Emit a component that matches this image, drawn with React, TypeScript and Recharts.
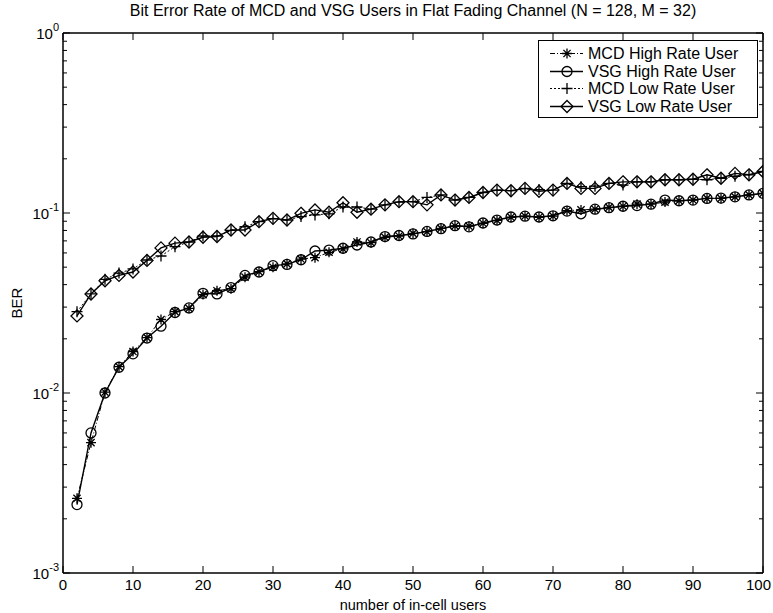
import React from 'react';
import { LineChart, Line, XAxis, YAxis, Legend } from 'recharts';

// Number of in-cell users (x axis)
const users = [
  2, 4, 6, 8, 10, 12, 14, 16, 18, 20,
  22, 24, 26, 28, 30, 32, 34, 36, 38, 40,
  42, 44, 46, 48, 50, 52, 54, 56, 58, 60,
  62, 64, 66, 68, 70, 72, 74, 76, 78, 80,
  82, 84, 86, 88, 90, 92, 94, 96, 98, 100,
];

// BER of the high rate user
const mcdHigh = [
  0.0026, 0.0053, 0.0101, 0.0140, 0.0170, 0.0203, 0.0256, 0.0283, 0.0295, 0.0352,
  0.0370, 0.0380, 0.0440, 0.0472, 0.0500, 0.0522, 0.0555, 0.0565, 0.0605, 0.0632,
  0.0690, 0.0684, 0.0733, 0.0745, 0.0770, 0.0787, 0.0822, 0.0847, 0.0845, 0.0877,
  0.0910, 0.0947, 0.0962, 0.0947, 0.0962, 0.1030, 0.1040, 0.1050, 0.1075, 0.1090,
  0.1120, 0.1120, 0.1150, 0.1170, 0.1180, 0.1205, 0.1205, 0.1230, 0.1260, 0.1285,
];
const vsgHigh = [
  0.0024, 0.0060, 0.0100, 0.0139, 0.0165, 0.0202, 0.0235, 0.0280, 0.0297, 0.0358,
  0.0355, 0.0385, 0.0450, 0.0470, 0.0510, 0.0518, 0.0550, 0.0615, 0.0622, 0.0637,
  0.0664, 0.0690, 0.0740, 0.0750, 0.0765, 0.0790, 0.0818, 0.0850, 0.0838, 0.0880,
  0.0914, 0.0950, 0.0960, 0.0950, 0.0965, 0.1025, 0.0990, 0.1050, 0.1070, 0.1090,
  0.1100, 0.1120, 0.1180, 0.1170, 0.1180, 0.1205, 0.1210, 0.1230, 0.1260, 0.1286,
];

// BER of the low rate user
const mcdLow = [
  0.0283, 0.0355, 0.0428, 0.0464, 0.0489, 0.0548, 0.0577, 0.0650, 0.0690, 0.0745,
  0.0745, 0.0800, 0.0840, 0.0895, 0.0930, 0.0914, 0.0955, 0.0976, 0.0990, 0.1080,
  0.1080, 0.1050, 0.1110, 0.1150, 0.1156, 0.1220, 0.1260, 0.1180, 0.1220, 0.1300,
  0.1340, 0.1330, 0.1370, 0.1350, 0.1340, 0.1460, 0.1400, 0.1410, 0.1460, 0.1430,
  0.1490, 0.1490, 0.1530, 0.1530, 0.1540, 0.1530, 0.1560, 0.1600, 0.1630, 0.1700,
];
const vsgLow = [
  0.0268, 0.0355, 0.0420, 0.0450, 0.0470, 0.0545, 0.0640, 0.0680, 0.0690, 0.0733,
  0.0740, 0.0805, 0.0805, 0.0895, 0.0934, 0.0914, 0.0996, 0.1040, 0.1010, 0.1140,
  0.1010, 0.1050, 0.1110, 0.1156, 0.1156, 0.1110, 0.1260, 0.1180, 0.1220, 0.1300,
  0.1340, 0.1330, 0.1370, 0.1320, 0.1340, 0.1460, 0.1370, 0.1370, 0.1460, 0.1490,
  0.1490, 0.1490, 0.1530, 0.1530, 0.1540, 0.1630, 0.1560, 0.1660, 0.1630, 0.1700,
];

const xTicks = [0, 10, 20, 30, 40, 50, 60, 70, 80, 90, 100];
const yDecades = [0.001, 0.01, 0.1, 1];
const yMinorSteps = [2, 3, 4, 5, 6, 7, 8, 9];

const seriesNames = {
  mcdHigh: 'MCD High Rate User',
  vsgHigh: 'VSG High Rate User',
  mcdLow: 'MCD Low Rate User',
  vsgLow: 'VSG Low Rate User',
};

const title = 'Bit Error Rate of MCD and VSG Users in Flat Fading Channel (N = 128, M = 32)';

const FONT = '"Liberation Sans", Arial, Helvetica, sans-serif';
const TICK_FONT = 15;

const data = users.map((u, i) => ({
  users: u,
  mcdHigh: mcdHigh[i],
  vsgHigh: vsgHigh[i],
  mcdLow: mcdLow[i],
  vsgLow: vsgLow[i],
}));

const yTicks: number[] = [];
yDecades.forEach((d, i) => {
  yTicks.push(d);
  if (i < yDecades.length - 1) yMinorSteps.forEach((m) => yTicks.push(+(m * d).toPrecision(3)));
});

type MarkerKind = 'star' | 'circle' | 'plus' | 'diamond';

const Marker = ({ kind, cx, cy }: { kind: MarkerKind; cx: number; cy: number }) => {
  const s = '#000';
  const w = 1.3;
  if (kind === 'circle') return <circle cx={cx} cy={cy} r={5} fill="none" stroke={s} strokeWidth={w} />;
  if (kind === 'diamond') {
    const r = 6;
    return (
      <path
        d={`M${cx},${cy - r} L${cx + r},${cy} L${cx},${cy + r} L${cx - r},${cy} Z`}
        fill="none"
        stroke={s}
        strokeWidth={w}
      />
    );
  }
  if (kind === 'plus') {
    const r = 5.5;
    return <path d={`M${cx - r},${cy} H${cx + r} M${cx},${cy - r} V${cy + r}`} stroke={s} strokeWidth={w} />;
  }
  const r = 5;
  const d = r * 0.72;
  return (
    <path
      d={`M${cx - r},${cy} H${cx + r} M${cx},${cy - r} V${cy + r} M${cx - d},${cy - d} L${cx + d},${cy + d} M${cx - d},${cy + d} L${cx + d},${cy - d}`}
      stroke={s}
      strokeWidth={w}
    />
  );
};

const dotFor = (kind: MarkerKind) => (p: any) =>
  p.cx == null || p.cy == null ? <g key={p.index} /> : <Marker key={p.index} kind={kind} cx={p.cx} cy={p.cy} />;

const isDecade = (v: number) => yDecades.some((d) => Math.abs(v - d) < d * 1e-6);

const LeftTick = (p: any) => {
  const v = p.payload.value;
  const major = isDecade(v);
  const e = Math.round(Math.log10(v));
  return (
    <g>
      <line x1={p.x} x2={p.x + (major ? 7 : 4)} y1={p.y} y2={p.y} stroke="#000" strokeWidth={1} />
      {major && (
        <text x={p.x - 4} y={p.y + 6} textAnchor="end" fontSize={TICK_FONT} fontFamily={FONT} fill="#000">
          10
          <tspan dy={-8} fontSize={11}>{e}</tspan>
        </text>
      )}
    </g>
  );
};

const RightTick = (p: any) => {
  const major = isDecade(p.payload.value);
  return <line x1={p.x} x2={p.x - (major ? 7 : 4)} y1={p.y} y2={p.y} stroke="#000" strokeWidth={1} />;
};

const BottomTick = (p: any) => {
  const last = p.payload.value === xTicks[xTicks.length - 1];
  return (
    <g>
      <line x1={p.x} x2={p.x} y1={p.y} y2={p.y - 7} stroke="#000" strokeWidth={1} />
      <text
        x={last ? p.x + 8 : p.x}
        y={p.y + 17}
        textAnchor={last ? 'end' : 'middle'}
        fontSize={TICK_FONT}
        fontFamily={FONT}
        fill="#000"
      >
        {p.payload.value}
      </text>
    </g>
  );
};

const TopTick = (p: any) => <line x1={p.x} x2={p.x} y1={p.y} y2={p.y + 7} stroke="#000" strokeWidth={1} />;

const legendRows: { key: keyof typeof seriesNames; kind: MarkerKind; dash?: string; width: number }[] = [
  { key: 'mcdHigh', kind: 'star', dash: '5 2 1 2', width: 1 },
  { key: 'vsgHigh', kind: 'circle', width: 1.4 },
  { key: 'mcdLow', kind: 'plus', dash: '2 2', width: 1 },
  { key: 'vsgLow', kind: 'diamond', width: 1.4 },
];

const LegendBox = () => (
  <div
    style={{
      border: '1px solid #000',
      background: '#fff',
      boxSizing: 'border-box',
      width: 220,
      height: 78,
      padding: '4px 0 0 0',
      fontFamily: FONT,
      fontSize: 16,
      color: '#000',
    }}
  >
    {legendRows.map((r) => (
      <div key={r.key} style={{ display: 'flex', alignItems: 'center', height: 17.5 }}>
        <svg width={41} height={17} style={{ marginLeft: 8, flex: 'none' }}>
          <line x1={3} x2={36} y1={8.5} y2={8.5} stroke="#000" strokeWidth={r.width} strokeDasharray={r.dash} />
          <Marker kind={r.kind} cx={20} cy={8.5} />
        </svg>
        <span style={{ whiteSpace: 'nowrap', lineHeight: '17px' }}>{seriesNames[r.key]}</span>
      </div>
    ))}
  </div>
);

export default function App() {
  return (
    <div style={{ position: 'absolute', left: 0, top: 0, width: 773, height: 613, background: '#fff' }}>
      <div
        style={{
          position: 'absolute',
          left: 33,
          width: 760,
          top: 2,
          textAlign: 'center',
          fontFamily: FONT,
          fontSize: 16,
          color: '#000',
          whiteSpace: 'nowrap',
        }}
      >
        {title}
      </div>
      <LineChart width={773} height={613} data={data} margin={{ top: 0, right: 0, bottom: 0, left: 0 }}>
        <XAxis
          xAxisId="bottom"
          dataKey="users"
          type="number"
          domain={[0, 100]}
          ticks={xTicks}
          interval={0}
          height={40}
          tickSize={0}
          tickMargin={0}
          tick={BottomTick}
          axisLine={{ stroke: '#000', strokeWidth: 1.5 }}
          tickLine={false}
          allowDataOverflow
          label={{
            content: () => (
              <text x={413} y={610} textAnchor="middle" fontSize={14.5} fontFamily={FONT} fill="#000">
                number of in-cell users
              </text>
            ),
          }}
        />
        <XAxis
          xAxisId="top"
          orientation="top"
          dataKey="users"
          type="number"
          domain={[0, 100]}
          ticks={xTicks}
          interval={0}
          height={33}
          tickSize={0}
          tickMargin={0}
          tick={TopTick}
          axisLine={{ stroke: '#000', strokeWidth: 1.5 }}
          tickLine={false}
          allowDataOverflow
        />
        <YAxis
          yAxisId="left"
          type="number"
          scale="log"
          domain={[0.001, 1]}
          ticks={yTicks}
          interval={0}
          width={63}
          tickSize={0}
          tickMargin={0}
          tick={LeftTick}
          axisLine={{ stroke: '#000', strokeWidth: 1.5 }}
          tickLine={false}
          allowDataOverflow
          label={{
            content: () => (
              <text
                x={22}
                y={303}
                transform="rotate(-90 22 303)"
                textAnchor="middle"
                fontSize={15}
                fontFamily={FONT}
                fill="#000"
              >
                BER
              </text>
            ),
          }}
        />
        <YAxis
          yAxisId="right"
          orientation="right"
          type="number"
          scale="log"
          domain={[0.001, 1]}
          ticks={yTicks}
          interval={0}
          width={10}
          tickSize={0}
          tickMargin={0}
          tick={RightTick}
          axisLine={{ stroke: '#000', strokeWidth: 1.5 }}
          tickLine={false}
          allowDataOverflow
        />
        <Legend
          layout="vertical"
          align="center"
          verticalAlign="middle"
          content={() => <LegendBox />}
          wrapperStyle={{ left: 538, top: 40, width: 220, height: 78 }}
        />
        <Line
          xAxisId="bottom"
          yAxisId="left"
          dataKey="mcdHigh"
          name={seriesNames.mcdHigh}
          stroke="#000"
          strokeWidth={1}
          strokeDasharray="5 2 1 2"
          dot={dotFor('star')}
          isAnimationActive={false}
        />
        <Line
          xAxisId="bottom"
          yAxisId="left"
          dataKey="vsgHigh"
          name={seriesNames.vsgHigh}
          stroke="#000"
          strokeWidth={1.4}
          dot={dotFor('circle')}
          isAnimationActive={false}
        />
        <Line
          xAxisId="bottom"
          yAxisId="left"
          dataKey="mcdLow"
          name={seriesNames.mcdLow}
          stroke="#000"
          strokeWidth={1}
          strokeDasharray="2 2"
          dot={dotFor('plus')}
          isAnimationActive={false}
        />
        <Line
          xAxisId="bottom"
          yAxisId="left"
          dataKey="vsgLow"
          name={seriesNames.vsgLow}
          stroke="#000"
          strokeWidth={1.4}
          dot={dotFor('diamond')}
          isAnimationActive={false}
        />
      </LineChart>
    </div>
  );
}
